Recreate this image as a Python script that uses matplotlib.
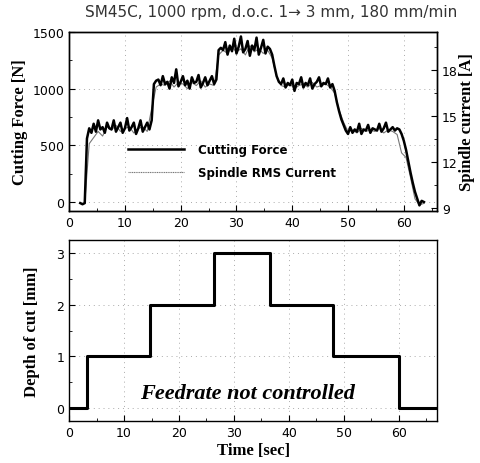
import numpy as np
import matplotlib
matplotlib.use("Agg")
import matplotlib.pyplot as plt
from matplotlib.ticker import MultipleLocator

# cutting force [N], sampled every 0.4 s from t = 2.0 s
force_t0 = 2.0
force_dt = 0.4
force = [
    -10, -20, -10, 560, 650, 610,
    # 1 mm
    690, 620, 720, 640, 660, 610, 700, 650, 640, 720,
    620, 660, 700, 610, 650, 740, 630, 660, 700, 600,
    650, 720, 620, 660, 700, 640,
    720, 1040, 1070,
    # 2 mm
    1080, 1030, 1110, 1040, 1060, 1000, 1100, 1050, 1170, 1020,
    1060, 1110, 1030, 1070, 1000, 1100, 1050, 1060, 1120, 1010,
    1050, 1100, 1030, 1070, 1110, 1040,
    1080, 1340, 1360,
    # 3 mm
    1340, 1410, 1300, 1380, 1330, 1440, 1310, 1370, 1460, 1320,
    1350, 1420, 1290, 1380, 1340, 1450, 1300, 1360, 1430, 1310,
    1370, 1350,
    1300, 1200, 1110, 1060,
    # 2 mm
    1040, 1090, 1010, 1050, 1030, 1080, 980, 1050, 1040, 1100,
    1010, 1050, 1030, 1090, 1000, 1040, 1060, 1100, 1020, 1050,
    1040, 1090, 1010, 1040,
    980, 880, 800, 730, 680, 630,
    # 1 mm
    600, 660, 610, 640, 620, 690, 600, 640, 630, 680,
    610, 650, 640, 630, 690, 620, 650, 700, 620, 640,
    660, 630, 650,
    640, 600, 540, 460, 360, 260, 170, 90, 30, -30, 10, 0,
]

# spindle RMS current [A]
cur_t = [2.0, 2.8, 3.6, 4.4, 5.2, 6.0, 6.8, 7.6, 8.4, 9.2, 10.0, 10.8, 11.6,
         12.4, 13.2, 14.0, 14.8, 15.6, 16.4, 17.2, 18.0, 18.8, 19.6, 20.4,
         21.2, 22.0, 22.8, 23.6, 24.4, 25.2, 26.0, 26.8, 27.6, 28.4, 29.2,
         30.0, 30.8, 31.6, 32.4, 33.2, 34.0, 34.8, 35.6, 36.4, 37.2, 38.0,
         38.8, 39.6, 40.4, 41.2, 42.0, 42.8, 43.6, 44.4, 45.2, 46.0, 46.8,
         47.6, 48.4, 49.2, 50.0, 50.8, 51.6, 52.4, 53.2, 54.0, 54.8, 55.6,
         56.4, 57.2, 58.0, 58.8, 59.6, 60.4, 61.2, 62.0, 62.8, 63.6]
cur_a = [9.3, 9.3, 13.2, 13.6, 14.0, 13.7, 14.3, 14.1, 14.4, 14.0, 14.2, 14.3,
         13.9, 14.2, 14.3, 14.0, 15.5, 16.9, 17.1, 17.0, 17.3, 16.9, 17.2,
         17.1, 16.8, 17.2, 17.0, 17.3, 16.9, 17.1, 17.0, 19.0, 19.3, 19.1,
         19.5, 19.2, 19.4, 19.0, 19.6, 19.2, 19.4, 19.1, 19.3, 18.8, 17.6,
         17.0, 16.9, 17.1, 16.8, 17.0, 17.1, 16.9, 17.2, 16.9, 17.0, 17.1,
         16.9, 16.5, 15.4, 14.6, 14.0, 14.1, 13.9, 14.2, 14.0, 14.1, 14.0,
         14.2, 13.9, 14.1, 14.0, 13.8, 12.6, 12.3, 11.0, 9.6, 9.2, 9.3]

# depth of cut [mm]
doc_t = [0, 3.3, 14.8, 26.4, 36.5, 48.0, 60.0, 67.0]
doc_mm = [0, 1, 2, 3, 2, 1, 0, 0]

title = "SM45C, 1000 rpm, d.o.c. 1\u2192 3 mm, 180 mm/min"

force_time = force_t0 + force_dt * np.arange(len(force))

sans = "DejaVu Sans"
serif = "Liberation Serif"
plt.rcParams["font.family"] = sans
plt.rcParams["font.size"] = 9

fig = plt.figure(figsize=(4.8, 4.64), dpi=100)
ax1 = fig.add_axes([0.144, 0.543, 0.767, 0.386])
ax2 = fig.add_axes([0.144, 0.0905, 0.767, 0.39])

grid_kw = dict(color="#aaaaaa", linestyle=(0, (1, 4)), linewidth=0.7)
lab_kw = dict(fontfamily=serif, fontweight="bold", fontsize=12)

# top: force + current
axr = ax1.twinx()
l_cur, = axr.plot(cur_t, cur_a, color="#777777", linewidth=0.8)
l_force, = ax1.plot(force_time, force, color="black", linewidth=1.8)
ax1.set_zorder(axr.get_zorder() + 1)
ax1.patch.set_visible(False)

ax1.set_xlim(0, 66)
ax1.set_ylim(-80, 1500)
axr.set_ylim(8.8, 20.5)
ax1.xaxis.set_major_locator(MultipleLocator(10))
ax1.xaxis.set_minor_locator(MultipleLocator(5))
ax1.yaxis.set_major_locator(MultipleLocator(500))
ax1.yaxis.set_minor_locator(MultipleLocator(250))
axr.yaxis.set_major_locator(MultipleLocator(3))
axr.yaxis.set_minor_locator(MultipleLocator(1.5))
ax1.grid(True, **grid_kw)
ax1.set_ylabel("Cutting Force [N]", labelpad=3, **lab_kw)
axr.set_ylabel("Spindle current [A]", labelpad=1, **lab_kw)
fig.text(271 / 480, 1 - 13 / 464, title, fontsize=11, color="#333333",
         ha="center", va="center")

legend_cur = plt.Line2D([], [], color="#777777", linewidth=0.8,
                        linestyle=(0, (1, 0.6)))
leg = ax1.legend([l_force, legend_cur], ["Cutting Force", "Spindle RMS Current"],
                 loc="upper left", bbox_to_anchor=(0.13, 0.44), frameon=False,
                 handlelength=4.8, handletextpad=1.2, labelspacing=0.9,
                 prop=dict(family=sans, weight="bold", size=8.5))

# bottom: depth of cut
ax2.step(doc_t, doc_mm, where="post", color="black", linewidth=2.2)
ax2.set_xlim(0, 67)
ax2.set_ylim(-0.25, 3.25)
ax2.xaxis.set_major_locator(MultipleLocator(10))
ax2.xaxis.set_minor_locator(MultipleLocator(5))
ax2.yaxis.set_major_locator(MultipleLocator(1))
ax2.yaxis.set_minor_locator(MultipleLocator(0.5))
ax2.grid(True, **grid_kw)
ax2.set_ylabel("Depth of cut [mm]", labelpad=12, **lab_kw)
ax2.set_xlabel("Time [sec]", labelpad=2, **lab_kw)
ax2.text(32.4, 0.3, "Feedrate not controlled", fontfamily=serif,
         fontweight="bold", fontstyle="italic", fontsize=16,
         ha="center", va="center")

for a in (ax1, axr, ax2):
    a.tick_params(which="both", direction="in", labelsize=9)
    a.tick_params(which="major", length=4)
    a.tick_params(which="minor", length=2)
    for s in a.spines.values():
        s.set_linewidth(1.0)

fig.savefig("out.png", dpi=100)
